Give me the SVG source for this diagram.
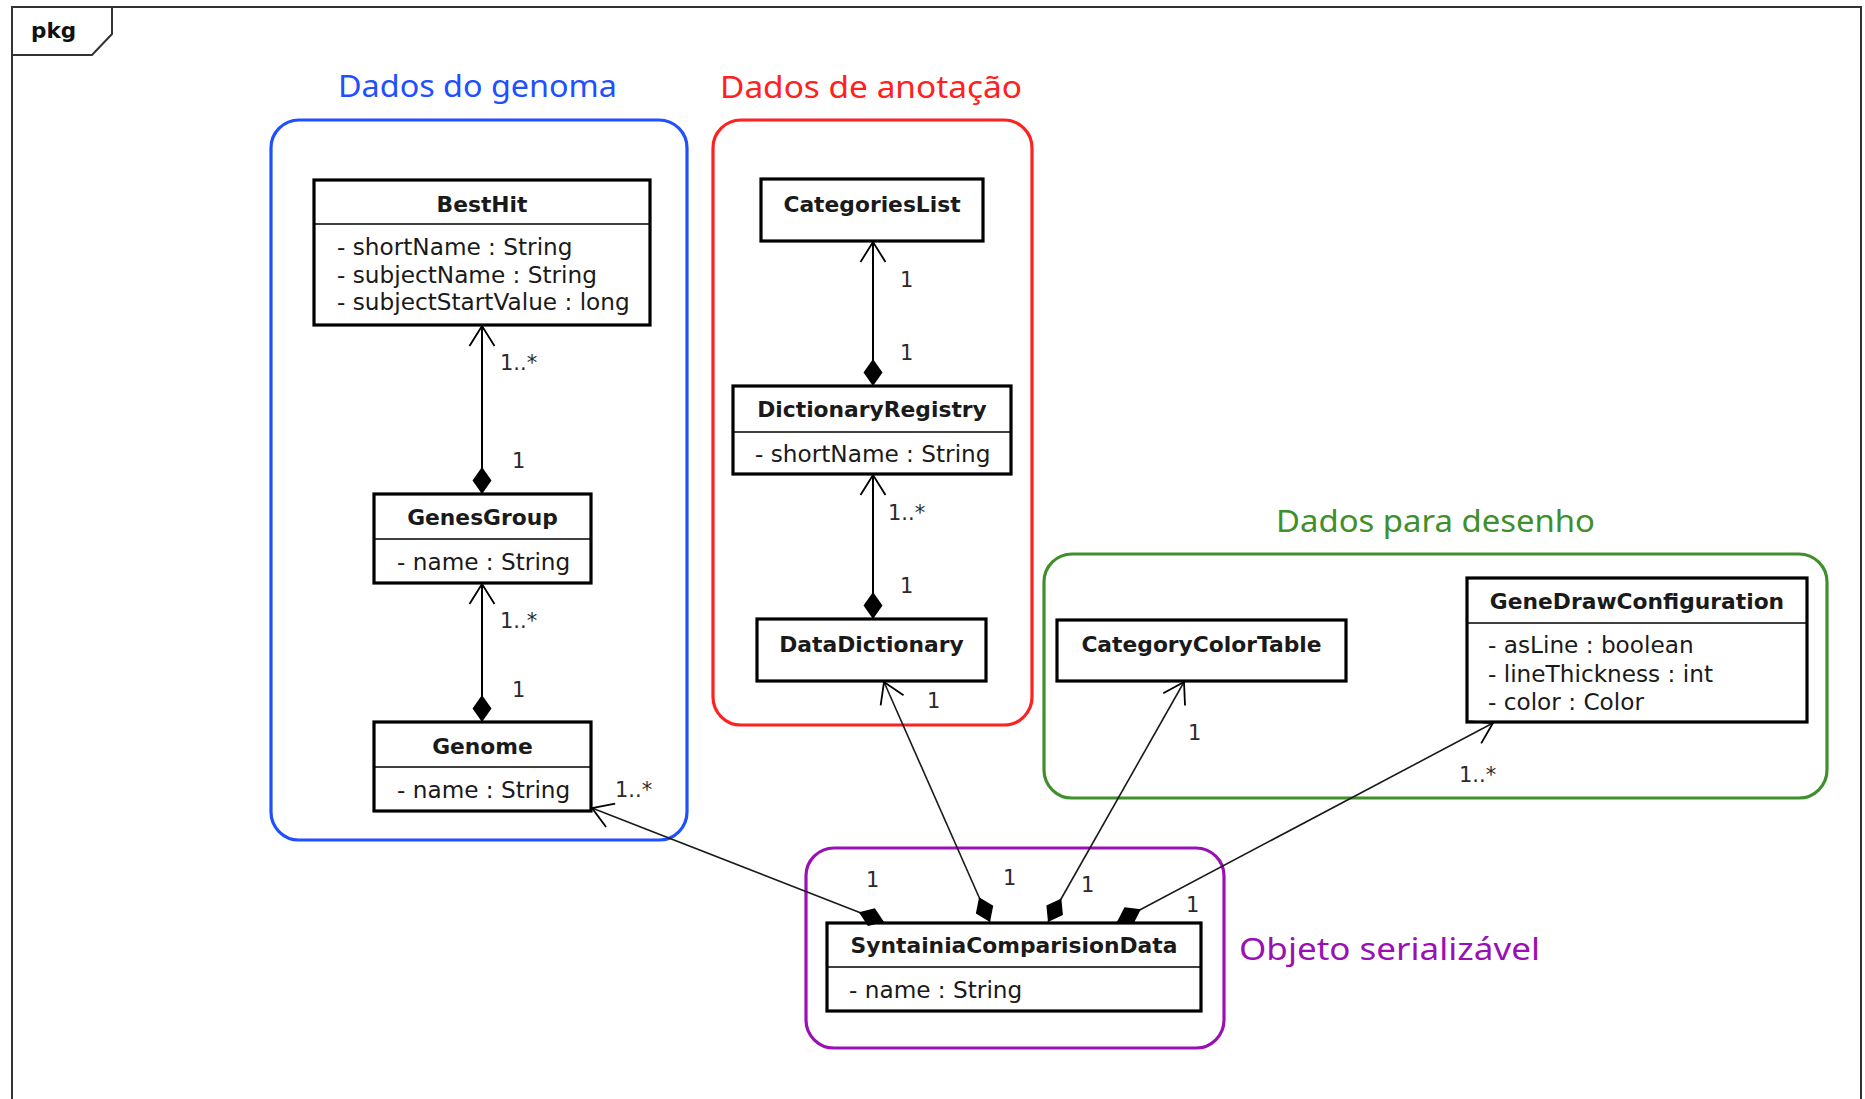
<svg xmlns="http://www.w3.org/2000/svg" width="1865" height="1099" viewBox="0 0 1865 1099">
<style>
.frame{fill:none;stroke:#333;stroke-width:2}
.pkg{fill:none;stroke-width:3.2}
.box{fill:#fff;stroke:#000;stroke-width:3.2}
.div{stroke:#000;stroke-width:1.6}
.hd{font-family:"DejaVu Sans",sans-serif;font-weight:bold;font-size:21.8px;fill:#1a1a1a;text-anchor:middle}
.at{font-family:"DejaVu Sans",sans-serif;font-size:23.2px;fill:#1a1a1a}
.lb{font-family:"DejaVu Sans",sans-serif;font-size:21px;fill:#2a2a2a}
.tt{font-family:"Noto Sans",sans-serif;font-size:30px}
.cv{fill:none;stroke:#000;stroke-width:2;marker-start:url(#dia);marker-end:url(#arr)}
.cs{fill:none;stroke:#1a1a1a;stroke-width:1.6;marker-start:url(#dia);marker-end:url(#arr)}
</style>
<defs>
<marker id="dia" markerUnits="userSpaceOnUse" orient="auto" refX="0" refY="0" markerWidth="40" markerHeight="40" overflow="visible">
<path d="M0,0 L13.5,-9.5 L27,0 L13.5,9.5 Z" fill="#000" stroke="none"/>
</marker>
<marker id="arr" markerUnits="userSpaceOnUse" orient="auto" refX="0" refY="0" markerWidth="40" markerHeight="40" overflow="visible">
<path d="M-20,-12.5 L0,0 L-20,12.5" fill="none" stroke="#000" stroke-width="1.8"/>
</marker>
</defs>
<rect width="1865" height="1099" fill="#fff"/>
<g id="frame">
<path class="frame" d="M12,1099 V7 H1861 V1099"/>
<path class="frame" d="M12,55 H92 L112,34 V7"/>
<text x="31" y="38" font-family="DejaVu Sans,sans-serif" font-weight="bold" font-size="21.5" fill="#111">pkg</text>
</g>
<g id="pkg-genoma">
<rect class="pkg" x="271" y="120" width="416" height="720" rx="28" stroke="#1f50ff"/>
<text class="tt" x="338" y="97" textLength="279" lengthAdjust="spacingAndGlyphs" fill="#1f50ff">Dados do genoma</text>
</g>
<g id="pkg-anotacao">
<rect class="pkg" x="713" y="120" width="319" height="605" rx="28" stroke="#ff2020"/>
<text class="tt" x="720" y="98" textLength="302" lengthAdjust="spacingAndGlyphs" fill="#ff2020">Dados de anotação</text>
</g>
<g id="pkg-desenho">
<rect class="pkg" x="1044" y="554" width="783" height="244" rx="28" stroke="#3f8f2a"/>
<text class="tt" x="1276" y="532" textLength="319" lengthAdjust="spacingAndGlyphs" fill="#3f8f2a">Dados para desenho</text>
</g>
<g id="pkg-serializavel">
<rect class="pkg" x="806" y="848" width="418" height="200" rx="28" stroke="#9a10b5"/>
<text class="tt" x="1239" y="960" textLength="301" lengthAdjust="spacingAndGlyphs" fill="#9a10b5">Objeto serializável</text>
</g>
<g id="BestHit">
<rect class="box" x="314" y="180" width="336" height="145"/>
<line class="div" x1="314" y1="224" x2="650" y2="224"/>
<text class="hd" x="482" y="212">BestHit</text>
<text class="at" x="337" y="255">- shortName : String</text>
<text class="at" x="337" y="283">- subjectName : String</text>
<text class="at" x="337" y="310">- subjectStartValue : long</text>
</g>
<g id="GenesGroup">
<rect class="box" x="374" y="494" width="217" height="89"/>
<line class="div" x1="374" y1="539" x2="591" y2="539"/>
<text class="hd" x="482.5" y="525">GenesGroup</text>
<text class="at" x="397" y="570">- name : String</text>
</g>
<g id="Genome">
<rect class="box" x="374" y="722" width="217" height="89"/>
<line class="div" x1="374" y1="767" x2="591" y2="767"/>
<text class="hd" x="482.5" y="754">Genome</text>
<text class="at" x="397" y="798">- name : String</text>
</g>
<g id="CategoriesList">
<rect class="box" x="761" y="179" width="222" height="62"/>
<text class="hd" x="872" y="212">CategoriesList</text>
</g>
<g id="DictionaryRegistry">
<rect class="box" x="733" y="386" width="278" height="88"/>
<line class="div" x1="733" y1="432" x2="1011" y2="432"/>
<text class="hd" x="872" y="417">DictionaryRegistry</text>
<text class="at" x="755" y="462">- shortName : String</text>
</g>
<g id="DataDictionary">
<rect class="box" x="757" y="619" width="229" height="62"/>
<text class="hd" x="871.5" y="652">DataDictionary</text>
</g>
<g id="CategoryColorTable">
<rect class="box" x="1057" y="620" width="289" height="61"/>
<text class="hd" x="1201.5" y="652">CategoryColorTable</text>
</g>
<g id="GeneDrawConfiguration">
<rect class="box" x="1467" y="578" width="340" height="144"/>
<line class="div" x1="1467" y1="623" x2="1807" y2="623"/>
<text class="hd" x="1637" y="609">GeneDrawConfiguration</text>
<text class="at" x="1488" y="653">- asLine : boolean</text>
<text class="at" x="1488" y="682">- lineThickness : int</text>
<text class="at" x="1488" y="710">- color : Color</text>
</g>
<g id="SyntainiaComparisionData">
<rect class="box" x="827" y="923" width="374" height="88"/>
<line class="div" x1="827" y1="967" x2="1201" y2="967"/>
<text class="hd" x="1014" y="953">SyntainiaComparisionData</text>
<text class="at" x="849" y="998">- name : String</text>
</g>
<g id="connectors">
<path class="cv" d="M482,494 V326"/>
<text class="lb" x="500" y="370">1..*</text>
<text class="lb" x="512" y="468">1</text>
<path class="cv" d="M482,722 V584"/>
<text class="lb" x="500" y="628">1..*</text>
<text class="lb" x="512" y="697">1</text>
<path class="cv" d="M873,386 V242"/>
<text class="lb" x="900" y="287">1</text>
<text class="lb" x="900" y="360">1</text>
<path class="cv" d="M873,619 V475"/>
<text class="lb" x="888" y="520">1..*</text>
<text class="lb" x="900" y="593">1</text>
<path class="cs" d="M884,922 L592,808"/>
<text class="lb" x="615" y="797">1..*</text>
<text class="lb" x="866" y="887">1</text>
<path class="cs" d="M990,922 L884,682"/>
<text class="lb" x="927" y="708">1</text>
<text class="lb" x="1003" y="885">1</text>
<path class="cs" d="M1048,922 L1184,682"/>
<text class="lb" x="1188" y="740">1</text>
<text class="lb" x="1081" y="892">1</text>
<path class="cs" d="M1117,922 L1493,723"/>
<text class="lb" x="1459" y="782">1..*</text>
<text class="lb" x="1186" y="912">1</text>
</g>
</svg>
